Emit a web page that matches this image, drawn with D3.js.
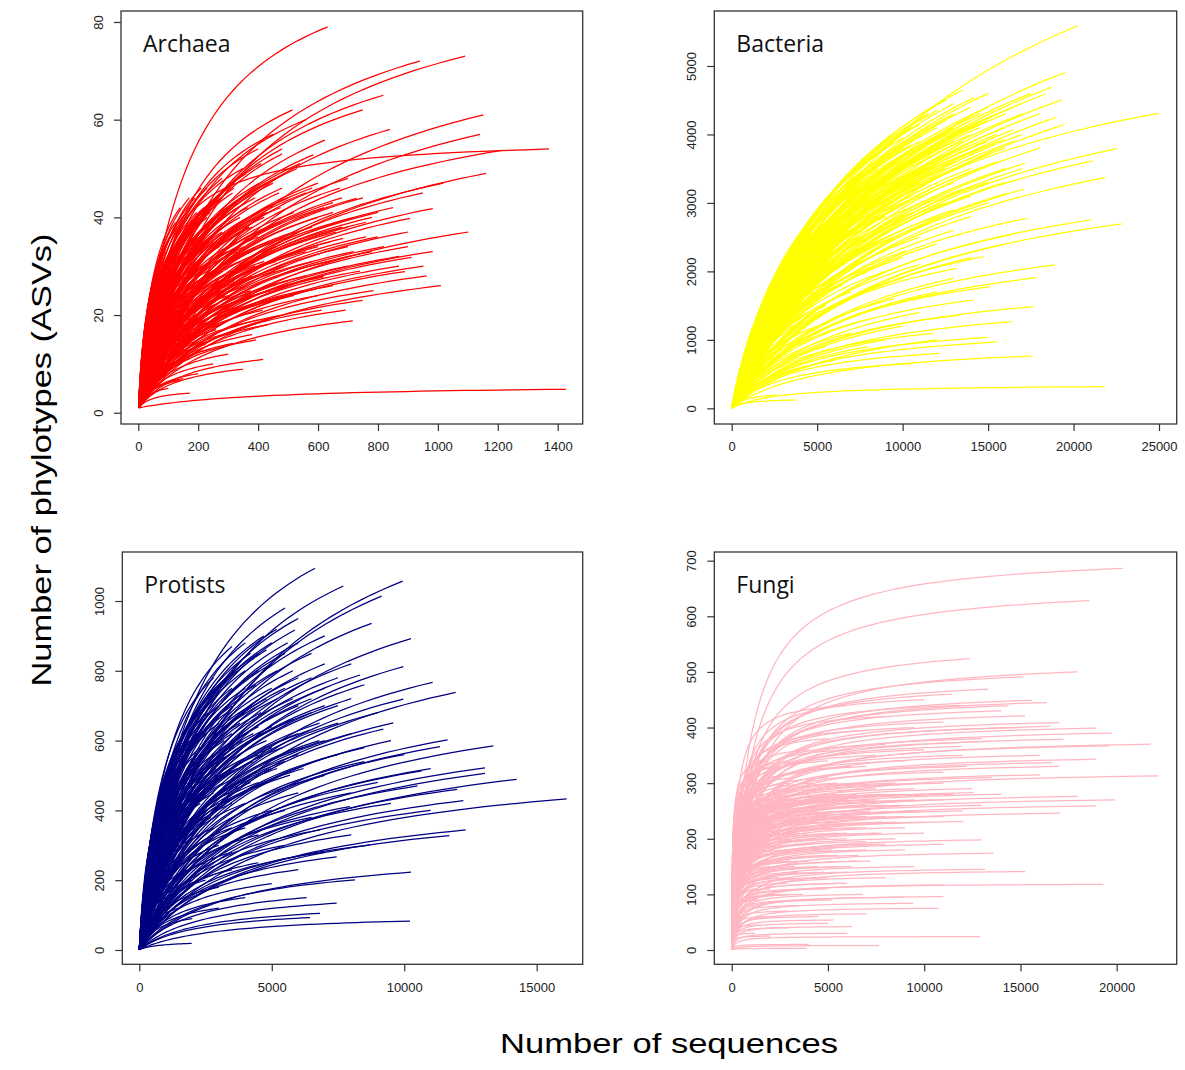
<!DOCTYPE html>
<html>
<head>
<meta charset="utf-8">
<script src="https://cdn.jsdelivr.net/npm/d3@7"></script>
<style>
  html, body { margin: 0; padding: 0; background: #fff; }
  svg { display: block; }
</style>
</head>
<body>
<svg id="chart" width="1185" height="1070"></svg>
<script>
// ---------- DATA: each curve = [final number of sequences, final number of ASVs, saturation shape k] ----------
const archaeaCurves = [
  [632,79,0.25],[1091,73,0.3],[940,72,0.3],[818,65,0.3],[749,62,0.3],[515,62,0.3],[840,58,0.35],[1152,61,0.4],
  [1141,57,0.4],[1371,54,0.05],[1213,53.7,0.3],[1161,49,0.4],[1018,47,0.4],[983,41.8],[907,39.8],[1102,37],
  [901,37],[983,33],[912,31.8],[952,30],[890,28.9],[963,28],[1010,26],[785,25],[749,23],[692,21],[716,18.8],
  [684,35.7],[584,52.8],[623,55.8],[673,46],[490,49],[484,43.5],[729,43.9],[417,10.9],[350,8.9],[172,4,0.3],
  [1427,4.8,0.3],[145,6.7],[393,14.9],[317,14.2],[612,21],[440,25],[584,31],[617,27.8],
  [450,57,0.3],[400,54,0.3],[560,60,0.3],[350,50,0.3],[480,53],[530,50],[600,47],[650,41],[700,38],[760,36],
  [820,34],[870,32],[640,35],[700,30],[560,28],[520,24],[480,20],[430,18],[380,16],[300,12],[250,10],[200,8],
  [150,7],[100,5],[420,40],[470,45],[360,43],[320,47],[280,44],[240,41],[380,38],[330,33],[280,30],[230,35],
  [190,39],[150,33],[130,28]
];
const archaeaFill = [
  [40,8],[50,12],[60,15],[60,20],[70,10],[70,24],[80,18],[80,28],[90,14],[90,22],[100,30],[100,9],[110,26],
  [110,17],[120,34],[120,12],[130,21],[130,38],[140,29],[140,15],[150,36],[150,24],[160,19],[160,41],[170,31],
  [170,11],[180,27],[180,38],[190,22],[190,44],[200,33],[200,16],[210,29],[210,41],[220,24],[220,36],[230,19],
  [230,46],[240,31],[240,13],[250,39],[250,26],[260,22],[260,44],[270,34],[270,18],[280,29],[280,48],[290,37],
  [290,24],[300,42],[300,20],[310,31],[320,27],[320,46],[330,35],[340,23],[340,40],[350,30],[360,49],[360,26],
  [370,38],[380,33],[390,44],[400,28],[400,36],[410,51],[420,31],[430,41],[440,25],[450,47],[460,34],[470,39],
  [480,54],[490,30],[500,44],[520,37],[540,51],[560,33],[580,46],[600,40],[620,28],[650,43],[680,38],[700,48],
  [720,33],[750,44],[780,40],[800,36],[850,42],[870,30],[900,34],[950,45]
];
const archaeaShort = [
  [20,6],[25,9],[30,12],[30,7],[35,14],[35,10],[40,16],[45,13],[45,19],[50,22],[50,17],[55,11],[55,24],[60,26],
  [65,18],[65,13],[70,28],[75,21],[75,16],[80,31],[85,25],[85,12],[90,33],[95,19],[95,27],[100,35],[105,23],
  [105,14],[110,31],[115,37],[115,20],[120,27],[125,16],[125,39],[130,33],[135,24],[140,19],[140,42],[145,36],
  [150,27],[155,13],[160,32],[165,23],[170,44],[175,37],[180,18],[185,30],[190,26],[195,41],[200,21],[205,36],
  [210,46],[215,27],[220,32],[225,14],[230,40],[235,23],[240,35],[250,43],[255,29],[260,17],[265,37],[275,25],
  [285,40],[295,33],[305,21],[315,45],[325,29],[335,38],[345,17],[355,34],[365,42],[375,25],[390,30],[405,47],
  [415,21],[435,35],[455,29],[475,42],[495,24]
];
const archaeaMid = [
  [120,30],[140,35],[160,28],[180,33],[200,39],[200,27],[220,42],[230,29],[250,35],[260,40],[270,27],[280,37],
  [300,33],[300,46],[310,39],[330,43],[340,31],[350,37],[370,45],[380,28],[400,41],[410,34],[430,47],[440,38],
  [460,31],[480,46],[500,36],[520,41],[540,33],[560,45],[580,38],[600,34],[620,42],[640,31],[660,37],[680,44],
  [700,34],[720,40],[740,29],[760,39],[780,33],[800,41],[150,20],[180,23],[220,17],[260,21],[300,24],[350,22],
  [400,19],[450,23],[500,27],[550,25],[600,24],[650,26]
];

const bacteriaCurves = [
  [20222,5585],[19500,4903],[14177,4538],[18720,4689],[18330,4587],[19305,4504],[25000,4309,0.35],[19013,4251],
  [19403,4139],[22523,3793,0.45],[21119,3613,0.45],[21840,3369,0.45],[17160,3579],[17063,3199],[17258,2775,0.45],
  [21021,2751,0.4],[22815,2693,0.4],[18915,2094,0.4],[17843,1909,0.4],[17648,1485,0.35],[16380,1266,0.35],
  [15015,1037,0.3],[15503,969,0.3],[17550,764,0.3],[21840,316,0.12],[12188,803,0.3],[13163,2045,0.45],
  [15113,1777,0.4],[14723,2215,0.5],[16283,2532,0.5],[16088,3140],[15893,3920],[16478,4066],[14138,1582,0.4],
  [13358,1363,0.4],[11798,1095,0.35],[10628,657,0.3],[2633,195,0.3],[3803,122,0.2]
];
const bacteriaFill = [
  [2000,1200],[2500,1100],[3000,1650],[3000,800],[3500,1300],[4000,2000],[4000,1000],[4500,1600],[5000,2400],
  [5000,1200],[5500,1900],[5500,900],[6000,2700],[6000,1500],[6500,2200],[7000,3000],[7000,1700],[7000,1100],
  [7500,2500],[8000,3300],[8000,2000],[8000,1300],[8500,2800],[9000,3500],[9000,2300],[9500,3100],[9500,1600],
  [10000,3700],[10000,2600],[10000,1900],[10500,3300],[11000,3900],[11000,2900],[11000,2100],[11500,3500],
  [12000,4100],[12000,3100],[12000,2400],[12500,3700],[13000,4300],[13000,3300],[13000,2600],[13500,3900],
  [14000,4400],[14000,3500],[14000,2800],[14500,4100],[15000,4200],[15000,3700],[15000,3000],[15500,4300],
  [16000,3800],[16000,3300],[16500,4400],[17000,4000],[17000,3500],[17500,4600],[18000,4300],[18000,3800],
  [12000,1700],[13000,1900],[14000,2200],[16000,2400],[11000,1400],[9000,1000],[10000,1200],[12000,1000],
  [8000,900],[6000,700],[5000,650],[4000,1500],[3000,1200],[2000,900],[1500,700],[1000,500],[2500,1450],
  [3500,1800],[4500,2200],[6500,2900],[7500,3400],[8500,3600],[9500,3880],[10500,4100],[11500,4300],
  [12500,4500],[13500,4650]
];
const bacteriaShort = [
  [1000,600],[1000,350],[1200,700],[1500,900],[1500,550],[1800,1000],[1800,650],[2000,1150],[2200,800],
  [2200,1250],[2500,1000],[2500,1350],[2800,1550],[2800,1150],[3000,1400],[3200,1700],[3200,1000],[3500,1600],
  [3500,1200],[3700,1900],[4000,1750],[4000,1300],[4200,2100],[4500,1900],[4500,1400],[4500,2350],[4800,1700],
  [5000,2100],[5000,2550],[5200,1800],[5500,2400],[5500,1500],[5500,2700],[5800,2100],[6000,2500],[6000,1900],
  [6000,2900],[6300,2300],[6500,2700],[6500,1800],[6800,3100],[7000,2600],[7000,2200],[7300,2900],[7500,2000],
  [7500,3200],[7800,2700],[8000,3000],[8000,2400],[8300,3400],[8500,2600],[8500,2100],[8800,3100],[9000,3700],
  [9000,2800],[9300,3300],[9500,2500],[9800,3500],[10000,3000],[10000,3950],[10200,2300],[10500,3600],
  [10500,2800],[10800,3200],[11000,3500],[11000,4150],[11500,2700],[11500,3900],[12000,3400],[12000,4350],
  [12500,3000],[12500,4000],[13000,3600],[13000,4100],[13500,3200],[14000,4200],[14500,3800],[15000,4400],
  [15500,3600],[16000,4300]
];
const bacteriaMid = [
  [7000,3150],[7500,2950],[8000,3450],[8000,2750],[8500,3250],[8500,3500],[9000,3050],[9000,3600],[9500,3400],
  [9500,2900],[10000,3800],[10000,3400],[10500,3850],[10500,3100],[11000,3700],[11000,3300],[11500,4100],
  [11500,3700],[12000,3800],[12000,3600],[12500,4200],[12500,3500],[13000,3900],[13000,4450],[13500,4100],
  [13500,3700],[14000,4000],[14000,3800],[14500,4300],[14500,3500],[15000,3900],[15000,4600],[15500,4000],
  [16000,4100],[16500,3900],[17000,4300],[12000,2800],[11000,2500],[10000,2200],[9000,2000],[13000,2900],
  [14000,3100],[15000,3300],[16000,3500],[6000,2300],[6500,2500],[5500,2100],[5000,1800],[4500,1700],[4000,1600],
  [3500,1500],[3000,1300]
];

const protistsCurves = [
  [6632,1094,0.325],[7701,1043,0.35],[9941,1057,0.4],[9148,1014,0.4],[8771,936],[10256,892],[9967,812],
  [8331,788],[11074,767],[11942,738],[9967,719],[9589,651],[9212,633],[11640,602],[13364,585],[13049,522],
  [13049,506],[14245,489],[16132,433,0.3],[12232,428],[12320,344],[11703,328],[10256,223],[8142,201],
  [10218,83,0.3],[7450,134],[6317,150],[6820,105],[1976,19,0.4],[10658,513],[11351,583],[7953,411],[7450,267],
  [6820,344],[6443,630],[5688,501],[5185,919],[5877,917],[8708,301],[6443,93]
];
const protistsFill = [
  [500,200],[800,300],[1000,380],[1000,150],[1200,250],[1500,450],[1500,300],[1500,120],[1800,380],[2000,550],
  [2000,200],[2000,400],[2200,300],[2500,620],[2500,450],[2500,250],[2800,350],[3000,700],[3000,520],[3000,180],
  [3200,600],[3500,420],[3500,750],[3500,280],[3800,650],[4000,800],[4000,550],[4000,350],[4200,480],[4500,700],
  [4500,850],[4500,250],[4800,600],[5000,750],[5000,400],[5000,880],[5200,520],[5500,650],[5500,300],[5800,800],
  [6000,700],[6000,450],[6000,950],[6200,580],[6500,850],[6500,380],[6800,650],[7000,750],[7000,500],[7000,900],
  [7500,700],[7500,560],[8000,820],[8000,620],[8000,450],[8500,760],[8500,540],[9000,680],[9000,480],[9500,600],
  [9500,420],[10000,560],[10500,470],[11000,520],[11000,400],[12000,460],[4000,150],[5000,190],[3000,120],
  [2000,90],[6000,230],[7000,280],[8000,330],[3500,870],[2800,780],[2300,680],[1800,580],[1300,450],[900,350],
  [600,260],[4000,880],[5500,980]
];
const protistsShort = [
  [300,120],[300,70],[400,160],[400,100],[500,220],[500,140],[600,180],[700,300],[700,200],[700,120],[800,250],
  [900,330],[900,200],[1000,420],[1000,280],[1100,360],[1100,220],[1200,400],[1300,300],[1300,180],[1400,500],
  [1400,380],[1500,250],[1600,520],[1600,420],[1700,330],[1800,480],[1800,230],[1900,600],[2000,470],[2100,350],
  [2200,620],[2200,520],[2300,420],[2400,280],[2500,700],[2500,560],[2600,480],[2700,380],[2800,650],[2900,520],
  [3000,600],[3000,420],[3100,760],[3200,480],[3300,680],[3400,560],[3500,620],[3500,350],[3600,800],[3700,520],
  [3800,720],[3900,600],[4000,450],[4000,680],[4200,850],[4300,620],[4400,760],[4500,560],[4600,680],[4700,900],
  [4800,480],[5000,640],[5000,820],[5200,720],[5400,580],[5600,880],[5800,660],[6000,780],[6200,520],[6500,720],
  [6800,600],[7000,820],[7500,650],[8000,720],[8500,580]
];
const protistsMid = [
  [1500,500],[1500,380],[1700,560],[1800,430],[2000,620],[2000,320],[2200,450],[2300,580],[2500,520],[2500,380],
  [2600,680],[2800,560],[2800,450],[3000,750],[3000,650],[3200,550],[3300,780],[3400,450],[3500,700],[3600,580],
  [3700,800],[3800,500],[4000,750],[4000,620],[4200,700],[4300,540],[4500,800],[4500,640],[4800,720],[4800,860],
  [5000,580],[5200,800],[5500,750],[5500,850],[5800,720],[6000,880],[6000,620],[6500,780],[6500,680],[7000,700],
  [7000,600],[7500,780],[3000,300],[3500,520],[4000,420],[4500,480],[5000,520],[5500,540],[6000,560],[2500,200],
  [3500,230],[4500,330],[5500,400]
];

const fungiCurves = [
  [20312,686,0.043],[18580,628,0.05],[12381,524,0.06],[17957,500,0.05],[15152,491,0.045],[13333,469,0.045],
  [11429,460,0.045],[16364,445,0.04],[15602,449,0.04],[14372,439,0.04],[15238,421],[17022,409],[18926,399],
  [19740,390],[17230,379],[21766,370],[19602,367],[18926,343],[16623,337],[22165,313],[16017,315],[17974,276],
  [19913,270],[18926,259],[17056,246],[19307,118,0.02],[15238,141],[13160,145],[13593,174],[12900,24,0.02],
  [7654,8,0.05],[10996,96],[10736,75],[12987,198],[12035,231],[12554,283],[13506,375],[6234,42],[5281,54],
  [12208,330],[11948,366],[16537,402],[10996,117],[9437,84],[3896,3,0.1]
];
const fungiFill = [
  [2000,60],[2000,150],[2200,220],[2500,100],[2500,260],[2800,180],[3000,40],[3000,130],[3000,300],[3200,210],
  [3500,80],[3500,240],[3800,160],[4000,280],[4000,110],[4000,320],[4200,190],[4500,60],[4500,230],[4800,140],
  [5000,270],[5000,340],[5000,170],[5200,90],[5500,210],[5500,300],[5800,120],[6000,250],[6000,185],[6000,360],
  [6200,150],[6500,280],[6500,220],[6800,100],[7000,330],[7000,240],[7000,195],[7200,160],[7500,290],[7500,350],
  [7800,210],[8000,260],[8000,130],[8000,370],[8500,230],[8500,300],[9000,180],[9000,280],[9000,340],[9500,250],
  [9500,150],[10000,300],[10000,210],[10000,360],[10500,270],[11000,240],[11000,190],[11000,320],[11500,280],
  [12000,250],[12000,350],[12500,290],[13000,260],[13500,310],[14000,280],[1000,120],[1000,200],[1200,250],
  [1500,170],[1500,90],[1800,280],[800,60],[600,150],[1200,30],[4000,10],[6000,30],[9000,95],[7000,65],[5000,48],
  [3000,70],[2000,25],[1500,45],[9500,400],[8000,420],[11000,410],[6000,440],[7000,395],[10000,450],[12000,440],
  [5000,380],[4000,360],[3000,340],[14000,430],[15000,400],[13000,380],[16000,350],[17000,330]
];
const fungiShort = [
  [300,80],[300,150],[400,200],[400,120],[500,240],[500,60],[600,220],[600,100],[700,270],[700,180],[800,130],
  [800,240],[900,290],[900,200],[1000,90],[1000,260],[1100,160],[1100,310],[1200,210],[1300,280],[1300,110],
  [1400,190],[1500,250],[1500,320],[1600,140],[1700,230],[1800,200],[1800,340],[1900,170],[2000,270],[2000,110],
  [2100,300],[2200,180],[2300,240],[2400,130],[2500,210],[2500,330],[2600,160],[2700,280],[2800,240],[2900,120],
  [3000,200],[3000,260],[3200,310],[3300,150],[3400,230],[3500,190],[3600,270],[3700,100],[3800,340],[3900,210],
  [4000,250],[4000,160],[4200,300],[4400,200],[4500,270],[4600,130],[4800,240],[5000,220],[5000,310],[5200,180],
  [5400,260],[5600,150],[5800,280],[6000,210],[6200,330],[6400,240],[6600,170],[6800,270],[7000,300],[7000,220],
  [7200,250],[7500,190],[7800,230],[8000,280],[8500,200],[9000,240],[9500,270],[10000,230],[11000,270]
];
const fungiMid = [
  [2500,150],[2500,190],[3000,160],[3000,230],[3500,140],[3500,210],[3500,280],[4000,180],[4000,220],[4500,150],
  [4500,250],[4500,290],[5000,130],[5000,200],[5000,240],[5500,170],[5500,230],[5500,270],[6000,140],[6000,200],
  [6000,270],[6500,160],[6500,250],[6500,300],[7000,180],[7000,260],[7500,210],[7500,270],[8000,190],[8000,240],
  [8500,260],[8500,280],[9000,220],[9000,260],[9500,290],[10000,250],[10000,280],[11000,300],[3000,100],[4000,90],
  [5000,110],[6000,120],[2000,200],[2000,240],[1500,210],[1500,280],[1000,230],[1200,180]
];

const archaeaXTicks = [0,200,400,600,800,1000,1200,1400];
const archaeaYTicks = [0,20,40,60,80];
const bacteriaXTicks = [0,5000,10000,15000,20000,25000];
const bacteriaYTicks = [0,1000,2000,3000,4000,5000];
const protistsXTicks = [0,5000,10000,15000];
const protistsYTicks = [0,200,400,600,800,1000];
const fungiXTicks = [0,5000,10000,15000,20000];
const fungiYTicks = [0,100,200,300,400,500,600,700];

const panelNames = ["Archaea","Bacteria","Protists","Fungi"];
const panelColors = ["#ff0000","#ffff00","#000080","#ffb6c1"];

// ---------- LAYOUT ----------
const panels = [
  {name: panelNames[0], color: panelColors[0], curves: archaeaCurves.concat(archaeaFill, archaeaShort, archaeaMid), k: 0.4,
   xt: archaeaXTicks, yt: archaeaYTicks, box: [121, 11, 582.7, 424], xd: [-57.7, 1483.4], yd: [-2.31, 82.25]},
  {name: panelNames[1], color: panelColors[1], curves: bacteriaCurves.concat(bacteriaFill, bacteriaShort, bacteriaMid), k: 0.6,
   xt: bacteriaXTicks, yt: bacteriaYTicks, box: [714.3, 11, 1176.7, 424], xd: [-1018, 26035], yd: [-229, 5803]},
  {name: panelNames[2], color: panelColors[2], curves: protistsCurves.concat(protistsFill, protistsShort, protistsMid), k: 0.35,
   xt: protistsXTicks, yt: protistsYTicks, box: [122.3, 552, 582.7, 964.3], xd: [-642, 16737], yd: [-41, 1140.4]},
  {name: panelNames[3], color: panelColors[3], curves: fungiCurves.concat(fungiFill, fungiShort, fungiMid), k: 0.035,
   xt: fungiXTicks, yt: fungiYTicks, box: [714.3, 552, 1176.7, 964.3], xd: [-904, 23117], yd: [-25.7, 715.6]}
];

const svg = d3.select("#chart");
svg.append("rect").attr("width", 1185).attr("height", 1070).attr("fill", "#fff");

function curvePoints(N, S, k) {
  const pts = [];
  const M = 48;
  for (let i = 0; i <= M; i++) {
    const t = i / M;
    const n = 1 + (N - 1) * t * t;
    const y = 1 + (S - 1) * (1 + k) * (n - 1) / (k * (N - 1) + (n - 1));
    pts.push([n, y]);
  }
  return pts;
}

panels.forEach(p => {
  const [x0, y0, x1, y1] = p.box;
  const x = d3.scaleLinear().domain(p.xd).range([x0, x1]);
  const y = d3.scaleLinear().domain(p.yd).range([y1, y0]);
  const g = svg.append("g");

  const clipId = "clip-" + p.name;
  g.append("clipPath").attr("id", clipId)
    .append("rect").attr("x", x0).attr("y", y0).attr("width", x1 - x0).attr("height", y1 - y0);

  const line = d3.line().x(d => x(d[0])).y(d => y(d[1]));
  g.append("g").attr("clip-path", `url(#${clipId})`)
    .selectAll("path").data(p.curves).join("path")
    .attr("d", d => line(curvePoints(d[0], d[1], d[2] !== undefined ? d[2] : p.k)))
    .attr("fill", "none")
    .attr("stroke", p.color)
    .attr("stroke-width", 1.25);

  // box
  g.append("rect").attr("x", x0).attr("y", y0).attr("width", x1 - x0).attr("height", y1 - y0)
    .attr("fill", "none").attr("stroke", "#333").attr("stroke-width", 1.3);

  // x axis
  const xa = g.append("g").attr("transform", `translate(0,${y1})`)
    .call(d3.axisBottom(x).tickValues(p.xt).tickFormat(d3.format("d")).tickSize(7).tickPadding(11));
  xa.select(".domain").remove();
  xa.selectAll("line").attr("stroke", "#333").attr("stroke-width", 1.2);
  xa.selectAll("text").attr("font-family", "Liberation Sans, Arial, sans-serif")
    .attr("font-size", 13).attr("fill", "#222");

  // y axis (labels parallel to axis)
  const ya = g.append("g").attr("transform", `translate(${x0},0)`)
    .call(d3.axisLeft(y).tickValues(p.yt).tickFormat(d3.format("d")).tickSize(7));
  ya.select(".domain").remove();
  ya.selectAll("line").attr("stroke", "#333").attr("stroke-width", 1.2);
  ya.selectAll("text")
    .attr("x", null).attr("dy", null)
    .attr("transform", "translate(-18,0) rotate(-90)")
    .attr("text-anchor", "middle")
    .attr("font-family", "Liberation Sans, Arial, sans-serif")
    .attr("font-size", 13).attr("fill", "#222");

  // panel title
  g.append("text").attr("x", x0 + 22).attr("y", y0 + 41)
    .attr("font-family", "Open Sans, Lato, sans-serif").attr("font-size", 23).attr("fill", "#111")
    .text(p.name);
});

// axis titles
svg.append("text")
  .attr("transform", "translate(51,460) rotate(-90)")
  .attr("text-anchor", "middle")
  .attr("font-family", "Liberation Sans, Arial, sans-serif")
  .attr("font-size", 27)
  .attr("textLength", 453).attr("lengthAdjust", "spacingAndGlyphs")
  .attr("fill", "#000")
  .text("Number of phylotypes  (ASVs)");

svg.append("text")
  .attr("x", 669).attr("y", 1053)
  .attr("text-anchor", "middle")
  .attr("font-family", "Liberation Sans, Arial, sans-serif")
  .attr("font-size", 27)
  .attr("textLength", 338).attr("lengthAdjust", "spacingAndGlyphs")
  .attr("fill", "#000")
  .text("Number of sequences");
</script>
</body>
</html>
